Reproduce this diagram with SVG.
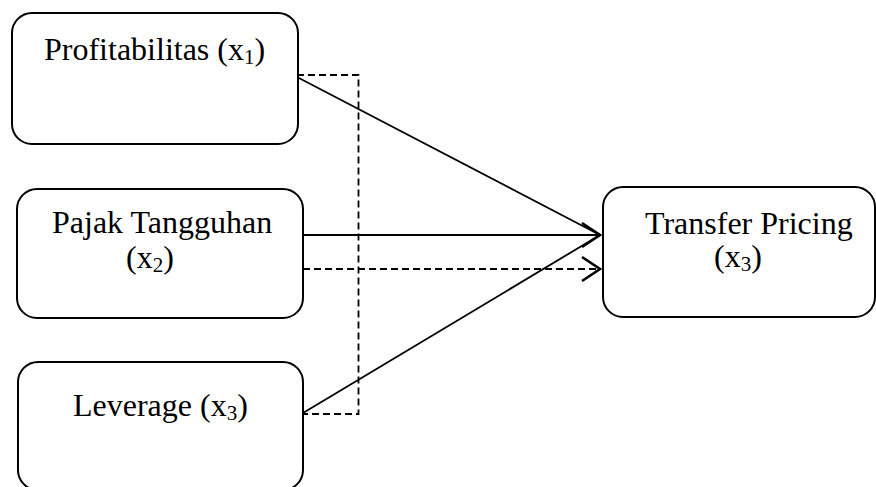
<svg xmlns="http://www.w3.org/2000/svg" width="876" height="487" viewBox="0 0 876 487">
<defs>
<style>
.box{fill:#fff;stroke:#000;stroke-width:2}
.lbl{font-family:"Liberation Serif","Times New Roman",serif;font-size:32px;fill:#000}
.sub{font-size:21px}
.solid{fill:none;stroke:#000;stroke-width:1.8}
.dash{fill:none;stroke:#000;stroke-width:1.8;stroke-dasharray:7,4}
</style>
<marker id="arr" markerUnits="userSpaceOnUse" viewBox="-22 -15 24 30" markerWidth="24" markerHeight="30" refX="0" refY="0" orient="auto">
<path d="M-18,-12 L0,0 L-18,12" fill="none" stroke="#000" stroke-width="2.6"/>
</marker>
</defs>
<rect width="876" height="487" fill="#fff"/>
<g id="connectors">
<line class="solid" x1="297" y1="77" x2="600" y2="235"/>
<line class="solid" x1="303" y1="235" x2="600" y2="235" marker-end="url(#arr)"/>
<line class="solid" x1="303" y1="413" x2="600" y2="235"/>
<polyline class="dash" points="297,75 358.5,75 358.5,414 303,414"/>
<line class="dash" x1="303" y1="269" x2="600" y2="269" marker-end="url(#arr)"/>
</g>
<g id="profitabilitas">
<rect class="box" x="12" y="13" width="286" height="131" rx="20"/>
<text class="lbl" x="44" y="60">Profitabilitas (x<tspan class="sub" dy="4">1</tspan><tspan dy="-4">)</tspan></text>
</g>
<g id="pajak">
<rect class="box" x="17" y="189" width="286" height="129" rx="20"/>
<text class="lbl" x="52" y="233">Pajak Tangguhan</text>
<text class="lbl" x="126" y="268">(x<tspan class="sub" dy="4">2</tspan><tspan dy="-4">)</tspan></text>
</g>
<g id="leverage">
<rect class="box" x="18" y="362" width="285" height="128" rx="20"/>
<text class="lbl" x="73" y="416">Leverage (x<tspan class="sub" dy="4">3</tspan><tspan dy="-4">)</tspan></text>
</g>
<g id="transfer">
<rect class="box" x="603" y="187" width="272" height="130" rx="20"/>
<text class="lbl" x="645" y="234">Transfer Pricing</text>
<text class="lbl" x="714" y="267">(x<tspan class="sub" dy="4">3</tspan><tspan dy="-4">)</tspan></text>
</g>
</svg>
